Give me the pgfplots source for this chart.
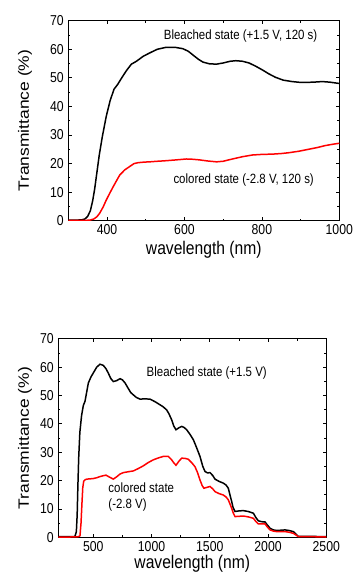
\documentclass[border=0pt]{standalone}
\usepackage{fontspec}
\setmainfont{Liberation Sans}
\usepackage{pgfplots}
\pgfplotsset{compat=1.18}
\begin{document}
\begin{tikzpicture}
\path[use as bounding box] (0,0) rectangle (353bp,576bp);
\pgfplotsset{
  every axis/.append style={
    scale only axis,
    /pgf/number format/assume math mode=true,
    /pgf/number format/1000 sep={},
    every tick label/.append style={font=\fontsize{12.3}{14}\selectfont, yscale=1.17},
    tick align=inside,
    major tick length=3.5bp,
    minor tick length=2bp,
    axis line style={line width=0.8pt},
    every tick/.style={line width=0.7pt, black},
    ymin=0, ymax=70,
    ytick={0,10,...,70},
    minor ytick={5,15,...,65},
    xlabel={wavelength (nm)},
    ylabel={Transmittance (\%)},
    yticklabel style={xshift=-1bp},
  }
}
% ---------- top ----------
\begin{axis}[
  at={(68.3bp,355.3bp)}, anchor=south west,
  width=271bp, height=200bp,
  xmin=300, xmax=1000,
  xtick={400,600,800,1000},
  minor xtick={500,700,900},
  ylabel style={at={(axis description cs:-0.16,0.5)}, anchor=center, font=\fontsize{15}{18}\selectfont, xscale=1.17},
  xlabel style={at={(axis description cs:0.5,-0.145)}, anchor=center, font=\fontsize{15.7}{18}\selectfont, yscale=1.17},
]
\addplot[black, line width=1.5pt] coordinates {
(300,0.2)(320,0.2)(335,0.3)(343,0.6)(350,1.5)(357,3.5)(363,7)(368,11)(373,16)(380,23)(388,29.5)(398,36.5)(408,42)(418,46)(428,47.8)(438,50)(450,52.5)(463,54.8)(476,55.8)(493,57.5)(510,58.7)(530,60)(553,60.7)(575,60.7)(596,60.2)(610,59.3)(622,58)(636,56.5)(648,55.5)(665,54.9)(683,54.8)(700,55.2)(718,55.8)(733,56)(750,55.8)(767,55.2)(785,54)(801,52.8)(818,51.4)(835,50.2)(855,49.2)(878,48.7)(900,48.4)(913,48.4)(935,48.5)(956,48.7)(975,48.5)(996,48.1)(1000,48.1)
};
\addplot[red, line width=1.5pt] coordinates {
(300,0.1)(340,0.1)(356,0.2)(366,0.6)(374,1.4)(381,2.6)(390,4.8)(398,7.2)(407,9.6)(416,11.9)(425,14.1)(433,16)(446,17.8)(459,19)(470,20)(480,20.3)(495,20.5)(510,20.6)(530,20.8)(553,21)(580,21.3)(605,21.6)(622,21.5)(638,21.3)(660,20.9)(683,20.6)(700,20.8)(724,21.6)(750,22.4)(776,23)(800,23.2)(827,23.3)(850,23.5)(870,23.8)(895,24.3)(921,25)(943,25.6)(964,26.3)(985,26.8)(1000,27.1)
};
\node[font=\fontsize{11.5}{13}\selectfont, yscale=1.17] at (axis cs:745,64.7) {Bleached state (+1.5 V, 120 s)};
\node[font=\fontsize{11.5}{13}\selectfont, yscale=1.17] at (axis cs:753,14.3) {colored state (-2.8 V, 120 s)};
\end{axis}
% ---------- bottom ----------
\begin{axis}[
  at={(58.3bp,38.7bp)}, anchor=south west,
  width=268bp, height=198.6bp,
  xmin=200, xmax=2500,
  xtick={500,1000,...,2500},
  minor xtick={750,1250,1750,2250},
  ylabel style={at={(axis description cs:-0.124,0.5)}, anchor=center, font=\fontsize{15}{18}\selectfont, xscale=1.17},
  xlabel style={at={(axis description cs:0.5,-0.131)}, anchor=center, font=\fontsize{15.7}{18}\selectfont, yscale=1.17},
]
\addplot[black, line width=1.5pt] coordinates {
(200,0.2)(300,0.2)(343,0.3)(355,2)(362,8)(368,18)(375,28)(385,37)(400,43)(415,46.5)(429,47.9)(445,51.5)(458,54.4)(480,56.5)(500,57.9)(530,60)(558,61)(586,60.6)(608,59.5)(629,57.9)(650,56)(672,54.9)(700,55.2)(730,55.9)(750,55.5)(773,54.4)(800,52.5)(822,51)(844,50.2)(870,49.3)(901,48.7)(940,48.8)(987,48.7)(1030,47.8)(1073,46.7)(1100,46)(1130,44.9)(1150,43.5)(1173,41.4)(1190,39.3)(1210,37.9)(1235,38.6)(1259,39.1)(1280,38.7)(1302,37.9)(1330,36.3)(1359,34.4)(1385,31.8)(1400,30.2)(1416,28.5)(1440,25)(1459,23.2)(1480,22.7)(1502,22.8)(1525,21.8)(1545,20.5)(1580,19.7)(1616,19.1)(1640,18.4)(1659,17.3)(1673,15)(1688,12.6)(1700,10.5)(1717,9.1)(1750,9.3)(1788,9.4)(1830,9.1)(1874,8.5)(1895,7)(1917,5.8)(1945,5.5)(1974,5.4)(1995,4.3)(2017,3.2)(2045,2.6)(2075,2.4)(2110,2.5)(2146,2.6)(2180,2.4)(2217,2)(2240,1.1)(2260,0.3)(2300,0.3)(2400,0.3)(2500,0.2)
};
\addplot[red, line width=1.5pt] coordinates {
(200,0.1)(300,0.1)(370,0.2)(386,0.5)(395,5)(403,12)(410,17.5)(418,19.8)(430,20.3)(444,20.5)(470,20.6)(500,20.7)(530,21)(558,21.4)(585,21.7)(609,21.9)(640,21.2)(672,20.5)(700,21.3)(730,22.3)(758,22.8)(800,23.1)(844,23.4)(885,24.2)(930,25.2)(970,26.3)(1015,27.3)(1060,28)(1101,28.5)(1144,28.5)(1173,27.3)(1190,26.3)(1210,25.4)(1235,26.8)(1259,27.9)(1290,27.8)(1316,27.5)(1345,26.3)(1373,24.9)(1395,22.8)(1416,20.2)(1435,18.2)(1450,17.3)(1475,17.6)(1502,17.9)(1525,17.1)(1545,16.1)(1580,15.4)(1616,14.9)(1640,14.2)(1659,13.2)(1673,11.8)(1688,10.2)(1700,8.7)(1717,7.3)(1750,7.4)(1788,7.5)(1830,7.2)(1874,6.7)(1895,5.6)(1917,4.7)(1945,4.7)(1974,4.7)(1995,3.6)(2017,2.6)(2045,2.2)(2075,2)(2110,2)(2146,2)(2180,1.8)(2217,1.4)(2240,0.8)(2260,0.2)(2300,0.2)(2400,0.2)(2500,0.1)
};
\node[font=\fontsize{11.5}{13}\selectfont, yscale=1.17] at (axis cs:1474,57.9) {Bleached state (+1.5 V)};
\node[font=\fontsize{11.5}{13}\selectfont, anchor=west, align=left, inner sep=0pt, yscale=1.17] at (axis cs:629,14.2) {colored state\\(-2.8 V)};
\end{axis}
\end{tikzpicture}
\end{document}
